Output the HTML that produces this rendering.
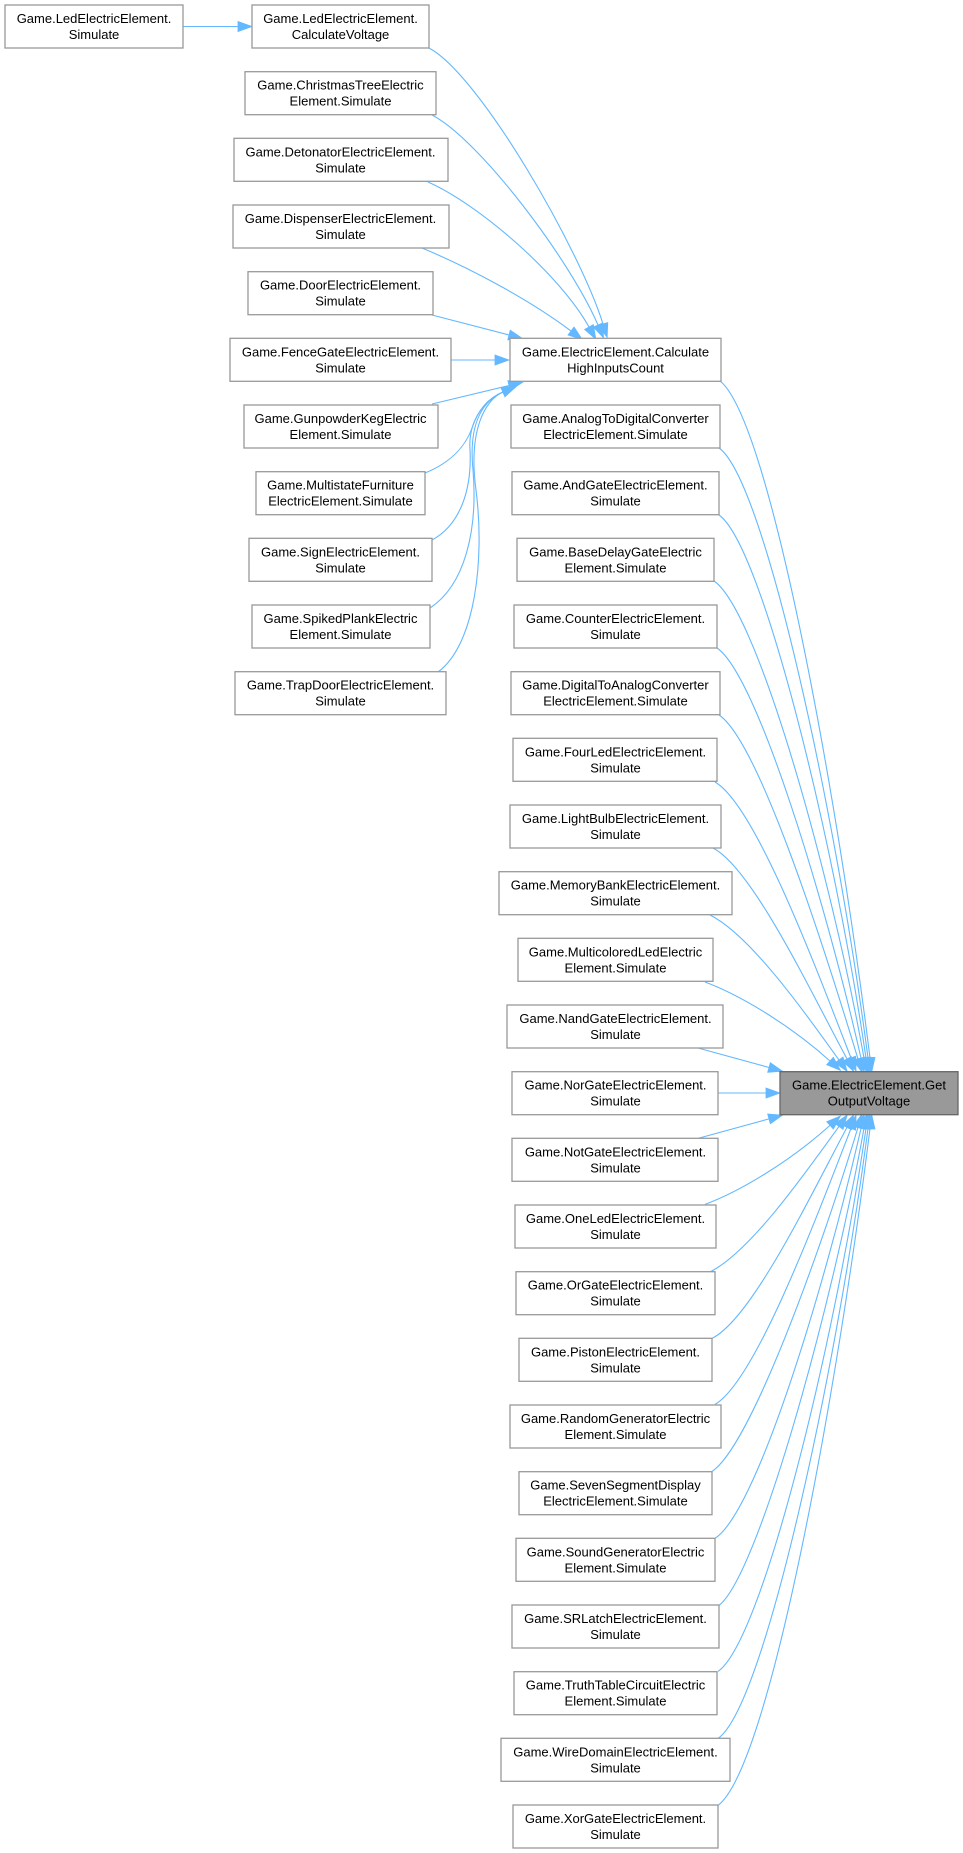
<!DOCTYPE html>
<html><head><meta charset="utf-8"><style>
html,body{margin:0;padding:0;background:#fff;width:963px;height:1853px;overflow:hidden}
svg{display:block}
text{font-family:"Liberation Sans",Arial,sans-serif;font-size:13px;fill:#000;text-anchor:middle}
.n{fill:#fff;stroke:#999;stroke-width:1.3}
.t{fill:#999;stroke:#666;stroke-width:1.3}
.e{fill:none;stroke:#63b8ff;stroke-width:1.1}
</style></head><body>
<svg width="963" height="1853" viewBox="0 0 963 1853" xmlns="http://www.w3.org/2000/svg">
<defs>
<marker id="a" markerUnits="userSpaceOnUse" markerWidth="15" markerHeight="11" refX="0" refY="5" orient="auto" overflow="visible">
<path d="M0,0 L14,5 L0,10 z" fill="#63b8ff" stroke="#63b8ff" stroke-width="0.8"/>
</marker>
</defs>

<!-- edges -->
<g class="e" marker-end="url(#a)">
<path d="M183,26.5 L238,26.5"/>
<!-- into HighInputsCount -->
<path d="M429,48 C480,75 580,250 603,324"/>
<path d="M432,115 C480,140 570,260 598,325"/>
<path d="M428,182 C480,205 560,275 589,327"/>
<path d="M422,248 C470,268 530,300 571,331"/>
<path d="M432,315 L509,335"/>
<path d="M451,360 L495,360"/>
<path d="M432,404 L509,385.5"/>
<path d="M425,473 C452,462 466,445 472,428 C478,410 488,398 503,392"/>
<path d="M432,540 C460,525 472,490 470,450 C468,420 485,400 503,392"/>
<path d="M430,608 C465,585 478,530 473,470 C468,420 485,400 503,392"/>
<path d="M438,672 C475,645 485,560 476,490 C468,430 485,400 503,392"/>
<!-- into GetOutputVoltage from above -->
<path d="M720,381 C770,420 838,800 870,1058"/>
<path d="M719,448 C765,480 837,820 868,1058"/>
<path d="M719,515 C762,545 834,840 866,1058"/>
<path d="M714,581 C757,610 830,870 864,1058"/>
<path d="M717,648 C757,675 825,900 861,1058"/>
<path d="M719,715 C757,740 819,930 858,1059"/>
<path d="M715,782 C755,805 815,965 851,1058"/>
<path d="M713,848 C752,868 810,990 847,1059"/>
<path d="M710,915 C750,935 803,1010 839,1060"/>
<path d="M705,982 C740,995 790,1025 830,1061"/>
<path d="M698,1048 L769,1067.5"/>
<path d="M718,1093 L766,1093"/>
<!-- from below -->
<path d="M698,1138.4 L769,1118.9"/>
<path d="M705,1204.4 C740,1191.4 790,1161.4 830,1125.4"/>
<path d="M711,1271.4 C750,1251.4 803,1176.4 839,1126.4"/>
<path d="M712,1338.4 C752,1318.4 810,1196.4 847,1127.4"/>
<path d="M715,1404.4 C755,1381.4 815,1221.4 851,1128.4"/>
<path d="M712,1471.4 C750,1446.4 819,1256.4 858,1127.4"/>
<path d="M715,1538.4 C757,1511.4 825,1286.4 861,1128.4"/>
<path d="M719,1605.4 C757,1576.4 830,1316.4 864,1128.4"/>
<path d="M718,1671.4 C762,1641.4 834,1346.4 866,1128.4"/>
<path d="M718,1738.4 C765,1706.4 837,1366.4 868,1128.4"/>
<path d="M718,1805.4 C770,1766.4 838,1386.4 870,1128.4"/>
</g>

<!-- column 1 -->
<rect class="n" x="5" y="5" width="178" height="43"/>
<text x="94" y="23">Game.LedElectricElement.</text><text x="94" y="39">Simulate</text>

<!-- column 2 -->
<rect class="n" x="252" y="5" width="177" height="43"/>
<text x="340.5" y="23">Game.LedElectricElement.</text><text x="340.5" y="39">CalculateVoltage</text>
<rect class="n" x="245" y="71.7" width="191" height="43"/>
<text x="340.5" y="89.7">Game.ChristmasTreeElectric</text><text x="340.5" y="105.7">Element.Simulate</text>
<rect class="n" x="234" y="138.3" width="214" height="43"/>
<text x="340.5" y="156.3">Game.DetonatorElectricElement.</text><text x="340.5" y="172.3">Simulate</text>
<rect class="n" x="233" y="205" width="216" height="43"/>
<text x="340.5" y="223">Game.DispenserElectricElement.</text><text x="340.5" y="239">Simulate</text>
<rect class="n" x="248" y="271.7" width="185" height="43"/>
<text x="340.5" y="289.7">Game.DoorElectricElement.</text><text x="340.5" y="305.7">Simulate</text>
<rect class="n" x="230" y="338.3" width="221" height="43"/>
<text x="340.5" y="356.3">Game.FenceGateElectricElement.</text><text x="340.5" y="372.3">Simulate</text>
<rect class="n" x="244" y="405" width="194" height="43"/>
<text x="340.5" y="423">Game.GunpowderKegElectric</text><text x="340.5" y="439">Element.Simulate</text>
<rect class="n" x="256" y="471.7" width="169" height="43"/>
<text x="340.5" y="489.7">Game.MultistateFurniture</text><text x="340.5" y="505.7">ElectricElement.Simulate</text>
<rect class="n" x="249" y="538.3" width="183" height="43"/>
<text x="340.5" y="556.3">Game.SignElectricElement.</text><text x="340.5" y="572.3">Simulate</text>
<rect class="n" x="252" y="605" width="178" height="43"/>
<text x="340.5" y="623">Game.SpikedPlankElectric</text><text x="340.5" y="639">Element.Simulate</text>
<rect class="n" x="235" y="671.7" width="211" height="43"/>
<text x="340.5" y="689.7">Game.TrapDoorElectricElement.</text><text x="340.5" y="705.7">Simulate</text>

<!-- column 3 -->
<rect class="n" x="510" y="338.3" width="211" height="43"/>
<text x="615.5" y="356.3">Game.ElectricElement.Calculate</text><text x="615.5" y="372.3">HighInputsCount</text>
<rect class="n" x="511" y="405" width="209" height="43"/>
<text x="615.5" y="423">Game.AnalogToDigitalConverter</text><text x="615.5" y="439">ElectricElement.Simulate</text>
<rect class="n" x="512" y="471.7" width="207" height="43"/>
<text x="615.5" y="489.7">Game.AndGateElectricElement.</text><text x="615.5" y="505.7">Simulate</text>
<rect class="n" x="517" y="538.3" width="197" height="43"/>
<text x="615.5" y="556.3">Game.BaseDelayGateElectric</text><text x="615.5" y="572.3">Element.Simulate</text>
<rect class="n" x="514" y="605" width="203" height="43"/>
<text x="615.5" y="623">Game.CounterElectricElement.</text><text x="615.5" y="639">Simulate</text>
<rect class="n" x="511" y="671.7" width="209" height="43"/>
<text x="615.5" y="689.7">Game.DigitalToAnalogConverter</text><text x="615.5" y="705.7">ElectricElement.Simulate</text>
<rect class="n" x="513" y="738.3" width="204" height="43"/>
<text x="615.5" y="756.3">Game.FourLedElectricElement.</text><text x="615.5" y="772.3">Simulate</text>
<rect class="n" x="510" y="805" width="211" height="43"/>
<text x="615.5" y="823">Game.LightBulbElectricElement.</text><text x="615.5" y="839">Simulate</text>
<rect class="n" x="499" y="871.7" width="233" height="43"/>
<text x="615.5" y="889.7">Game.MemoryBankElectricElement.</text><text x="615.5" y="905.7">Simulate</text>
<rect class="n" x="518" y="938.3" width="195" height="43"/>
<text x="615.5" y="956.3">Game.MulticoloredLedElectric</text><text x="615.5" y="972.3">Element.Simulate</text>
<rect class="n" x="507" y="1005" width="216" height="43"/>
<text x="615.5" y="1023">Game.NandGateElectricElement.</text><text x="615.5" y="1039">Simulate</text>
<rect class="n" x="512" y="1071.7" width="206" height="43"/>
<text x="615.5" y="1089.7">Game.NorGateElectricElement.</text><text x="615.5" y="1105.7">Simulate</text>
<rect class="n" x="512" y="1138.3" width="206" height="43"/>
<text x="615.5" y="1156.3">Game.NotGateElectricElement.</text><text x="615.5" y="1172.3">Simulate</text>
<rect class="n" x="515" y="1205" width="201" height="43"/>
<text x="615.5" y="1223">Game.OneLedElectricElement.</text><text x="615.5" y="1239">Simulate</text>
<rect class="n" x="516" y="1271.7" width="199" height="43"/>
<text x="615.5" y="1289.7">Game.OrGateElectricElement.</text><text x="615.5" y="1305.7">Simulate</text>
<rect class="n" x="519" y="1338.3" width="193" height="43"/>
<text x="615.5" y="1356.3">Game.PistonElectricElement.</text><text x="615.5" y="1372.3">Simulate</text>
<rect class="n" x="510" y="1405" width="211" height="43"/>
<text x="615.5" y="1423">Game.RandomGeneratorElectric</text><text x="615.5" y="1439">Element.Simulate</text>
<rect class="n" x="519" y="1471.7" width="193" height="43"/>
<text x="615.5" y="1489.7">Game.SevenSegmentDisplay</text><text x="615.5" y="1505.7">ElectricElement.Simulate</text>
<rect class="n" x="516" y="1538.3" width="199" height="43"/>
<text x="615.5" y="1556.3">Game.SoundGeneratorElectric</text><text x="615.5" y="1572.3">Element.Simulate</text>
<rect class="n" x="512" y="1605" width="207" height="43"/>
<text x="615.5" y="1623">Game.SRLatchElectricElement.</text><text x="615.5" y="1639">Simulate</text>
<rect class="n" x="514" y="1671.7" width="203" height="43"/>
<text x="615.5" y="1689.7">Game.TruthTableCircuitElectric</text><text x="615.5" y="1705.7">Element.Simulate</text>
<rect class="n" x="501" y="1738.3" width="229" height="43"/>
<text x="615.5" y="1756.3">Game.WireDomainElectricElement.</text><text x="615.5" y="1772.3">Simulate</text>
<rect class="n" x="513" y="1805" width="205" height="43"/>
<text x="615.5" y="1823">Game.XorGateElectricElement.</text><text x="615.5" y="1839">Simulate</text>

<!-- target -->
<rect class="t" x="780" y="1071.7" width="178" height="43"/>
<text x="869" y="1089.7">Game.ElectricElement.Get</text><text x="869" y="1105.7">OutputVoltage</text>
</svg>
</body></html>
